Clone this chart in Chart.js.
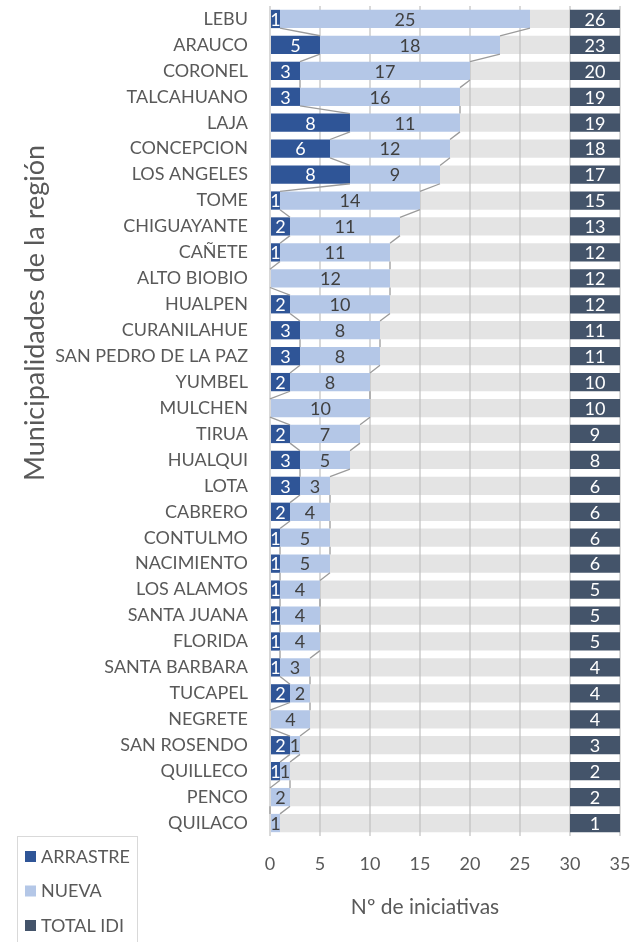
<!DOCTYPE html>
<html>
<head>
<meta charset="utf-8">
<script src="https://cdn.jsdelivr.net/npm/chart.js@4.4.1/dist/chart.umd.min.js"></script>
<style>
  html, body { margin: 0; padding: 0; background: #fff; }
</style>
</head>
<body>
<canvas id="myChart" width="634" height="942"></canvas>
<script>
// municipalities, top to bottom
var municipios = ['LEBU', 'ARAUCO', 'CORONEL', 'TALCAHUANO', 'LAJA', 'CONCEPCION', 'LOS ANGELES', 'TOME',
    'CHIGUAYANTE', 'CAÑETE', 'ALTO BIOBIO', 'HUALPEN', 'CURANILAHUE', 'SAN PEDRO DE LA PAZ', 'YUMBEL',
    'MULCHEN', 'TIRUA', 'HUALQUI', 'LOTA', 'CABRERO', 'CONTULMO', 'NACIMIENTO', 'LOS ALAMOS',
    'SANTA JUANA', 'FLORIDA', 'SANTA BARBARA', 'TUCAPEL', 'NEGRETE', 'SAN ROSENDO', 'QUILLECO',
    'PENCO', 'QUILACO'];
var arrastre = [1, 5, 3, 3, 8, 6, 8, 1, 2, 1, 0, 2, 3, 3, 2, 0, 2, 3, 3, 2, 1, 1, 1, 1, 1, 1, 2, 0, 2, 1, 0, 0];
var nueva = [25, 18, 17, 16, 11, 12, 9, 14, 11, 11, 12, 10, 8, 8, 8, 10, 7, 5, 3, 4, 5, 5, 4, 4, 4, 3, 2, 4, 1, 1, 2, 1];
var totalIdi = [26, 23, 20, 19, 19, 18, 17, 15, 13, 12, 12, 12, 11, 11, 10, 10, 9, 8, 6, 6, 6, 6, 5, 5, 5, 4, 4, 4, 3, 2, 2, 1];
// the total column sits in its own band of the axis
var totalBand = [30, 35];
var xTicks = { min: 0, max: 35, step: 5 };

var TXT = '#595959';

var extras = {
    id: 'extras',
    afterDatasetsDraw: function (chart) {
        var ctx = chart.ctx;
        ctx.save();
        // series lines between consecutive bars (ARRASTRE and NUEVA ends)
        ctx.strokeStyle = '#9b9b9b';
        ctx.lineWidth = 1.3;
        [0, 1].forEach(function (d) {
            var bars = chart.getDatasetMeta(d).data;
            for (var i = 0; i < bars.length - 1; i++) {
                var a = bars[i], b = bars[i + 1];
                ctx.beginPath();
                ctx.moveTo(a.x, a.y + a.height / 2);
                ctx.lineTo(b.x, b.y - b.height / 2);
                ctx.stroke();
            }
        });
        // value labels
        ctx.font = '18px Lato';
        ctx.textAlign = 'center';
        ctx.textBaseline = 'middle';
        chart.data.datasets.forEach(function (ds, d) {
            if (!ds.valueLabels) return;
            ctx.fillStyle = ds.labelColor;
            chart.getDatasetMeta(d).data.forEach(function (bar, i) {
                var v = ds.valueLabels[i];
                if (!v) return;
                ctx.fillText(String(v), (bar.x + bar.base) / 2, bar.y + 1);
            });
        });
        ctx.restore();
    },
    afterDraw: function (chart) {
        var ctx = chart.ctx;
        ctx.save();
        ctx.fillStyle = TXT;
        // y title
        ctx.font = '27px Lato';
        ctx.textAlign = 'center';
        ctx.textBaseline = 'middle';
        ctx.translate(35, 313);
        ctx.rotate(-Math.PI / 2);
        ctx.fillText('Municipalidades de la región', 0, 0);
        ctx.setTransform(1, 0, 0, 1, 0, 0);
        // x title
        ctx.font = '21px Lato';
        ctx.fillText('Nº de iniciativas', 425, 907);
        // legend box
        ctx.strokeStyle = '#d9d9d9';
        ctx.lineWidth = 1;
        ctx.strokeRect(17.5, 836.5, 120, 110);
        ctx.font = '18px Lato';
        ctx.textAlign = 'left';
        var rows = chart.data.datasets.filter(function (ds) { return ds.inLegend; });
        rows.forEach(function (ds, i) {
            var y = 857 + i * 34.5;
            ctx.fillStyle = ds.backgroundColor;
            ctx.fillRect(25, y - 6, 11, 11);
            ctx.fillStyle = TXT;
            ctx.fillText(ds.label, 41, y);
        });
        ctx.restore();
    }
};

var ctx = document.getElementById('myChart').getContext('2d');
new Chart(ctx, {
    type: 'bar',
    data: {
        labels: municipios,
        datasets: [{
            label: 'ARRASTRE',
            data: arrastre,
            backgroundColor: '#2F5597',
            valueLabels: arrastre,
            labelColor: '#ffffff',
            inLegend: true
        }, {
            label: 'NUEVA',
            data: nueva.map(function (n, i) { return [arrastre[i], arrastre[i] + n]; }),
            backgroundColor: '#B4C7E7',
            valueLabels: nueva,
            labelColor: '#404040',
            inLegend: true
        }, {
            label: 'relleno',
            data: totalIdi.map(function (t) { return [t, totalBand[0]]; }),
            backgroundColor: 'rgba(191,191,191,0.42)'
        }, {
            label: 'TOTAL IDI',
            data: totalIdi.map(function () { return totalBand.slice(); }),
            backgroundColor: '#44546A',
            valueLabels: totalIdi,
            labelColor: '#ffffff',
            inLegend: true
        }]
    },
    options: {
        indexAxis: 'y',
        responsive: false,
        animation: false,
        layout: { padding: { top: 6, right: 14, bottom: 0, left: 0 } },
        datasets: { bar: { grouped: false, barPercentage: 0.705, categoryPercentage: 1, borderWidth: 0 } },
        plugins: { legend: { display: false }, tooltip: { enabled: false } },
        scales: {
            x: {
                min: xTicks.min,
                max: xTicks.max,
                border: { display: false },
                grid: { color: '#d9d9d9', lineWidth: 2, drawTicks: false },
                ticks: { stepSize: xTicks.step, color: TXT, padding: 17, maxRotation: 0, font: { family: 'Lato', size: 18 } },
                afterFit: function (scale) {
                    scale.height = 106;
                    scale.paddingLeft = 0;
                    scale.paddingRight = 0;
                }
            },
            y: {
                border: { display: false },
                grid: { display: false },
                ticks: { color: TXT, padding: 14, autoSkip: false, font: { family: 'Lato', size: 18 } },
                afterFit: function (scale) {
                    scale.width = 270;
                    scale.paddingTop = 0;
                    scale.paddingBottom = 0;
                }
            }
        }
    },
    plugins: [extras]
});
</script>
</body>
</html>
